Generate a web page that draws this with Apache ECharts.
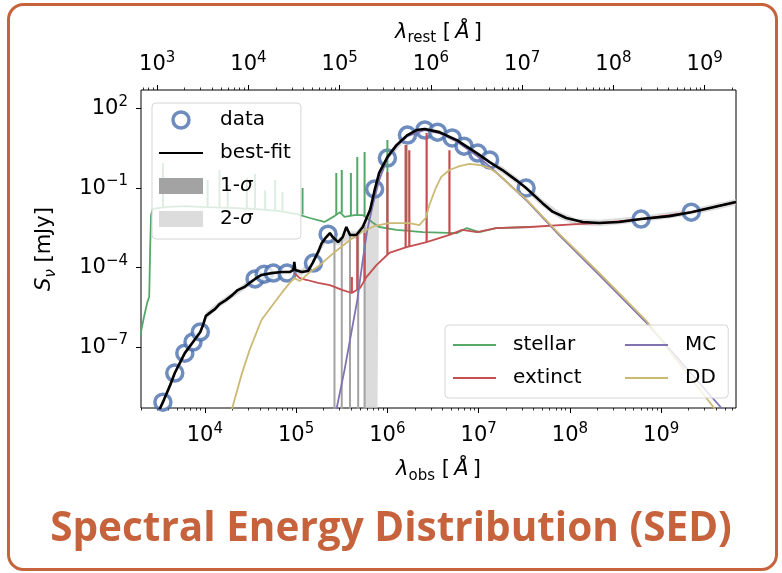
<!DOCTYPE html>
<html>
<head>
<meta charset="utf-8">
<script src="https://cdn.jsdelivr.net/npm/echarts@6/dist/echarts.min.js"></script>
<style>
  html, body { margin: 0; padding: 0; background: #fff; }
  #chart { width: 782px; height: 573px; }
</style>
</head>
<body>
<div id="chart"></div>
<script>
// values in dex: [log10(lambda_obs / Å), log10(S_nu / mJy)]
var dataPts = [
  [3.54, -9.08], [3.67, -7.98], [3.78, -7.23], [3.87, -6.81], [3.95, -6.43],
  [4.55, -4.43], [4.65, -4.25], [4.75, -4.21], [4.90, -4.21], [5.19, -3.83],
  [5.35, -2.74], [5.86, -1.04], [6.00, 0.13], [6.22, 1.00], [6.41, 1.19],
  [6.55, 1.11], [6.71, 0.89], [6.84, 0.58], [6.99, 0.32], [7.12, 0.06],
  [7.52, -1.00], [8.78, -2.17], [9.33, -1.91]
];
var bestFit = [
  [3.49, -9.45], [3.54, -9.08], [3.62, -8.43], [3.67, -7.98], [3.73, -7.57], [3.78, -7.23],
  [3.87, -6.81], [3.95, -6.43], [3.98, -6.17], [4.01, -5.83], [4.05, -5.72], [4.11, -5.57],
  [4.16, -5.38], [4.23, -5.23], [4.30, -5.04], [4.36, -4.85], [4.43, -4.74], [4.49, -4.58],
  [4.55, -4.43], [4.62, -4.28], [4.73, -4.21], [4.84, -4.17], [4.93, -4.17], [4.97, -4.09],
  [4.98, -3.79], [4.99, -4.09], [5.06, -4.17], [5.13, -4.13], [5.18, -3.83], [5.24, -3.42],
  [5.28, -3.08], [5.33, -2.85], [5.37, -2.70], [5.40, -2.85], [5.46, -3.04], [5.51, -2.85],
  [5.55, -2.47], [5.59, -2.77], [5.66, -2.77], [5.73, -2.47], [5.81, -1.83], [5.86, -1.08],
  [5.91, -0.43], [6.00, 0.17], [6.10, 0.62], [6.22, 1.00], [6.32, 1.19], [6.41, 1.23],
  [6.57, 1.11], [6.76, 0.81], [6.98, 0.32], [7.12, -0.02], [7.26, -0.32], [7.41, -0.70],
  [7.52, -1.00], [7.70, -1.57], [7.81, -1.89], [7.96, -2.13], [8.14, -2.28], [8.32, -2.32],
  [8.54, -2.28], [8.78, -2.17], [9.09, -2.06], [9.33, -1.91], [9.82, -1.53]
];
var stellar = [
  [3.28, -6.60], [3.30, -6.43], [3.33, -5.91], [3.37, -5.30], [3.39, -5.11], [3.40, -3.34],
  [3.41, -2.02], [3.43, -1.79], [3.56, -1.72], [3.78, -1.68], [4.00, -1.72], [4.27, -1.75],
  [4.55, -1.79], [4.82, -1.87], [5.01, -1.98], [5.15, -2.13], [5.31, -2.28], [5.42, -2.06],
  [5.48, -1.91], [5.53, -2.09], [5.64, -2.02], [5.73, -2.02], [5.83, -2.28], [5.91, -2.47],
  [6.10, -2.58], [6.39, -2.66], [6.76, -2.70], [6.87, -2.51], [6.93, -2.58], [7.01, -2.66],
  [7.19, -2.51], [7.56, -2.47]
];
// emission lines: [logλ, base, peak]
var stellarLines = [
  [3.54, -1.72, -0.06], [4.03, -1.72, -0.70], [4.16, -1.74, -0.32], [4.25, -1.75, -0.89],
  [4.46, -1.78, -0.62], [4.55, -1.79, -0.47], [4.66, -1.82, -1.08], [4.77, -1.85, -0.70],
  [4.85, -1.87, -1.15], [5.07, -2.00, -1.00], [5.44, -2.02, -0.43], [5.50, -1.93, -0.32],
  [5.60, -2.05, -0.43], [5.67, -2.02, 0.17], [5.75, -2.05, 0.36], [6.00, -2.55, 0.81],
  [6.21, -2.62, 0.62]
];
var extinct = [
  [4.98, -4.21], [5.04, -4.40], [5.12, -4.47], [5.24, -4.58], [5.37, -4.66], [5.51, -4.85],
  [5.61, -4.96], [5.70, -4.77], [5.77, -4.36], [5.88, -3.91], [6.02, -3.45], [6.21, -3.23],
  [6.43, -3.04], [6.68, -2.77], [6.82, -2.58], [6.98, -2.66], [7.19, -2.51], [7.56, -2.47],
  [8.07, -2.36], [8.32, -2.32], [8.78, -2.17], [9.33, -1.91], [9.82, -1.53]
];
var extinctLines = [
  [5.61, -4.96, -4.36], [5.67, -4.85, -2.70], [5.75, -4.50, -2.70], [6.00, -3.49, -0.40],
  [6.20, -3.24, 0.62], [6.24, -3.22, 0.43], [6.43, -3.04, 1.08], [6.68, -2.77, 0.43]
];
var mc = [
  [5.44, -9.38], [5.53, -7.87], [5.61, -6.36], [5.67, -5.23], [5.73, -3.72], [5.78, -2.58],
  [5.84, -1.64], [5.91, -0.70], [6.00, 0.12], [6.10, 0.58], [6.22, 0.96], [6.41, 1.19],
  [6.57, 1.07], [6.76, 0.76], [6.98, 0.22], [7.12, -0.18], [7.26, -0.62], [7.52, -1.45],
  [7.88, -2.77], [8.32, -4.28], [8.84, -6.09], [9.66, -9.30], [9.74, -9.64]
];
var dd = [
  [4.25, -9.75], [4.30, -9.30], [4.40, -8.06], [4.49, -7.11], [4.62, -5.98], [4.74, -5.42],
  [4.85, -4.92], [4.93, -4.58], [4.98, -4.40], [5.04, -4.51], [5.15, -4.17], [5.26, -3.91],
  [5.42, -3.42], [5.59, -2.96], [5.72, -2.66], [5.86, -2.43], [6.02, -2.32], [6.24, -2.32],
  [6.35, -2.40], [6.42, -2.13], [6.46, -1.64], [6.53, -1.00], [6.59, -0.58], [6.68, -0.32],
  [6.79, -0.17], [6.90, -0.09], [7.01, -0.13], [7.12, -0.25], [7.23, -0.51], [7.36, -0.95],
  [7.52, -1.42], [7.88, -2.72], [8.32, -4.20], [8.84, -6.02], [9.58, -9.30], [9.66, -9.64]
];
// 1-sigma: narrow drops to zero flux [logλ, low, high]
var sigma1Strips = [
  [5.42, -10, -2.80], [5.50, -10, -2.85], [5.59, -10, -2.70], [5.68, -10, -2.72], [5.75, -10, -2.40]
];
// 2-sigma envelope [logλ, low, high]
var sigma2Band = [
  [3.49, -9.62, -9.30], [3.62, -8.57, -8.30], [3.78, -7.36, -7.10], [3.95, -6.56, -6.30],
  [4.01, -5.97, -5.70], [4.16, -5.50, -5.26], [4.30, -5.16, -4.92], [4.55, -4.56, -4.30],
  [4.84, -4.30, -4.05], [5.06, -4.30, -4.05], [5.18, -3.97, -3.70], [5.33, -3.00, -2.70],
  [5.46, -3.18, -2.90], [5.59, -2.92, -2.63], [5.66, -2.92, -2.63], [5.74, -2.62, -2.30],
  [5.75, -10, -2.20], [5.81, -10, -1.70], [5.86, -10, -0.95], [5.89, -10, -0.50],
  [5.91, -0.58, -0.30], [6.00, 0.04, 0.30], [6.22, 0.88, 1.12], [6.41, 1.11, 1.35],
  [6.57, 0.99, 1.23], [6.76, 0.69, 0.93], [6.98, 0.20, 0.45], [7.12, -0.15, 0.11],
  [7.26, -0.45, -0.19], [7.41, -0.83, -0.57], [7.52, -1.14, -0.86], [7.70, -1.71, -1.43],
  [7.88, -2.15, -1.88], [8.07, -2.40, -2.16], [8.32, -2.44, -2.20], [8.78, -2.29, -2.05],
  [9.33, -2.03, -1.79], [9.82, -1.65, -1.41]
];
var obsTicks = [4, 5, 6, 7, 8, 9];
var restTicks = [3, 4, 5, 6, 7, 8, 9];
var yTicks = [-7, -4, -1, 2];
var logOnePlusZ = Math.log10(3);

var xMin = 3.30, xMax = 9.82, yMin = -9.3, yMax = 2.7;
var FONT = 'DejaVu Sans';

function minorTicks(lo, hi) {
  var out = [];
  for (var n = Math.floor(lo); n <= hi; n++) {
    for (var k = 2; k <= 9; k++) out.push(n + Math.log10(k));
  }
  return out;
}
function pow10(v) {
  var e = Math.round(v);
  return '{b|10}{s|' + (e < 0 ? '\u2212' + (-e) : e) + '}';
}
function segs(list) {
  var out = [];
  list.forEach(function (s) {
    out.push([s[0], s[1]], [s[0], s[2]], [s[0], '-']);
  });
  return out;
}

var tickRich = {
  b: { fontFamily: FONT, fontSize: 21, lineHeight: 28, color: '#000' },
  s: { fontFamily: FONT, fontSize: 15, lineHeight: 16, verticalAlign: 'top', color: '#000' }
};
var nameRich = {
  n: { fontFamily: FONT, fontSize: 21, lineHeight: 28, color: '#000' },
  i: { fontFamily: FONT, fontSize: 21, lineHeight: 28, fontStyle: 'italic', color: '#000' },
  sub: { fontFamily: FONT, fontSize: 15, lineHeight: 15, verticalAlign: 'bottom', color: '#000' },
  subi: { fontFamily: FONT, fontSize: 15, lineHeight: 15, verticalAlign: 'bottom', fontStyle: 'italic', color: '#000' }
};

function majorAxis(pos, min, max, ticks, name, gap, margin) {
  return {
    type: 'value', position: pos, min: min, max: max,
    name: name, nameLocation: 'middle', nameGap: gap,
    nameTextStyle: { rich: nameRich },
    axisLine: { show: false, onZero: false },
    splitLine: { show: false },
    axisTick: { show: true, length: 5, customValues: ticks, lineStyle: { color: '#000', width: 1 } },
    axisLabel: { customValues: ticks, formatter: pow10, margin: margin, rich: tickRich }
  };
}
function minorAxis(pos, min, max) {
  return {
    type: 'value', position: pos, min: min, max: max,
    axisLine: { show: false, onZero: false },
    splitLine: { show: false },
    axisTick: { show: true, length: 2.5, customValues: minorTicks(min, max), lineStyle: { color: '#000', width: 0.8 } },
    axisLabel: { show: false }
  };
}
// line entries in the legends: hide the marker ECharts adds to line icons
function lineItem(name, extra) {
  var item = { name: name, itemStyle: { opacity: 0 } };
  if (extra) item.textStyle = extra;
  return item;
}

var chart = echarts.init(document.getElementById('chart'));

var legendText = {
  fontFamily: FONT, fontSize: 20, lineHeight: 24, color: '#000', padding: [0, 0, 0, 12],
  rich: { i: { fontFamily: FONT, fontSize: 20, lineHeight: 24, fontStyle: 'italic', color: '#000' } }
};

chart.setOption({
  animation: false,
  backgroundColor: '#fff',
  title: {
    text: 'Spectral Energy Distribution (SED)',
    left: 'center', top: 504,
    textStyle: { fontFamily: 'Open Sans', fontWeight: 'bold', fontSize: 40.5, color: '#C6633C' }
  },
  graphic: [{
    type: 'rect', silent: true, z: -1,
    shape: { x: 8.5, y: 4.5, width: 768, height: 565, r: 15 },
    style: { fill: 'none', stroke: '#C6633C', lineWidth: 3 }
  }],
  grid: {
    left: 141, right: 46, top: 90, bottom: 165,
    show: true, borderColor: '#000', borderWidth: 1, backgroundColor: '#fff'
  },
  xAxis: [
    majorAxis('bottom', xMin, xMax, obsTicks,
      '{i|λ}{sub|obs}{n| [\u2009}{i|Å}{n|\u2009]}', 48, 14),
    minorAxis('bottom', xMin, xMax),
    majorAxis('top', xMin - logOnePlusZ, xMax - logOnePlusZ, restTicks,
      '{i|λ}{sub|rest}{n| [\u2009}{i|Å}{n|\u2009]}', 41, 11),
    minorAxis('top', xMin - logOnePlusZ, xMax - logOnePlusZ)
  ],
  yAxis: [
    majorAxis('left', yMin, yMax, yTicks, '{i|S}{subi|ν}{n| [mJy]}', 82, 13)
  ],
  legend: [{
    data: [
      { name: 'data', itemStyle: { borderWidth: 3.5 } },
      lineItem('best-fit'),
      { name: '1-σ', icon: 'rect', itemStyle: { color: '#a3a3a3' } },
      { name: '2-σ', icon: 'rect', itemStyle: { color: '#dcdcdc' } }],
    orient: 'vertical', left: 152, top: 103,
    itemWidth: 44, itemHeight: 16, itemGap: 9,
    padding: [5, 10, 8, 6],
    backgroundColor: 'rgba(255,255,255,0.8)', borderColor: '#d6d6d6', borderWidth: 1, borderRadius: 4,
    selectedMode: false,
    textStyle: legendText,
    formatter: function (name) { return name.replace('σ', '{i|σ}'); }
  }, {
    data: [
      lineItem('stellar', { width: 102 }),
      lineItem('extinct', { width: 102 }),
      lineItem('MC'), lineItem('DD')],
    orient: 'vertical', left: 445, top: 325, height: 70,
    itemWidth: 43, itemHeight: 14, itemGap: 9,
    padding: [8, 12, 8, 7],
    backgroundColor: 'rgba(255,255,255,0.8)', borderColor: '#d6d6d6', borderWidth: 1, borderRadius: 4,
    selectedMode: false,
    textStyle: legendText
  }],
  series: [
    {
      name: '2-σ', type: 'custom', clip: true, silent: true,
      itemStyle: { color: '#dcdcdc' },
      data: sigma2Band,
      encode: { x: 0, y: [1, 2] },
      renderItem: function (params, api) {
        if (params.dataIndex !== 0) return;
        var upper = sigma2Band.map(function (p) { return api.coord([p[0], p[2]]); });
        var lower = sigma2Band.slice().reverse().map(function (p) { return api.coord([p[0], p[1]]); });
        return {
          type: 'polygon',
          shape: { points: upper.concat(lower) },
          style: { fill: 'rgba(205,205,205,0.7)' }
        };
      }
    },
    {
      name: '1-σ', type: 'line', symbol: 'none', silent: true,
      data: segs(sigma1Strips),
      lineStyle: { color: '#a3a3a3', width: 2 },
      itemStyle: { color: '#a3a3a3' }
    },
    {
      name: 'stellar', type: 'line', symbol: 'none', silent: true,
      data: stellar, lineStyle: { color: '#55A868', width: 1.8 }, itemStyle: { color: '#55A868' }
    },
    {
      name: 'stellar', type: 'line', symbol: 'none', silent: true,
      data: segs(stellarLines), lineStyle: { color: '#55A868', width: 2 }
    },
    {
      name: 'extinct', type: 'line', symbol: 'none', silent: true,
      data: extinct, lineStyle: { color: '#C44E52', width: 1.8 }, itemStyle: { color: '#C44E52' }
    },
    {
      name: 'extinct', type: 'line', symbol: 'none', silent: true,
      data: segs(extinctLines), lineStyle: { color: '#C44E52', width: 2.2 }
    },
    {
      name: 'MC', type: 'line', symbol: 'none', silent: true,
      data: mc, lineStyle: { color: '#8172B2', width: 1.8 }, itemStyle: { color: '#8172B2' }
    },
    {
      name: 'DD', type: 'line', symbol: 'none', silent: true,
      data: dd, lineStyle: { color: '#CCB974', width: 1.8 }, itemStyle: { color: '#CCB974' }
    },
    {
      name: 'best-fit', type: 'line', symbol: 'none', silent: true,
      data: bestFit, lineStyle: { color: '#000', width: 2.6 }, itemStyle: { color: '#000' }
    },
    {
      name: 'data', type: 'scatter', symbol: 'circle', symbolSize: 16, silent: true,
      data: dataPts,
      itemStyle: { color: '#fff', borderColor: '#4A6FAE', borderWidth: 3.5 }
    }
  ]
});
</script>
</body>
</html>
